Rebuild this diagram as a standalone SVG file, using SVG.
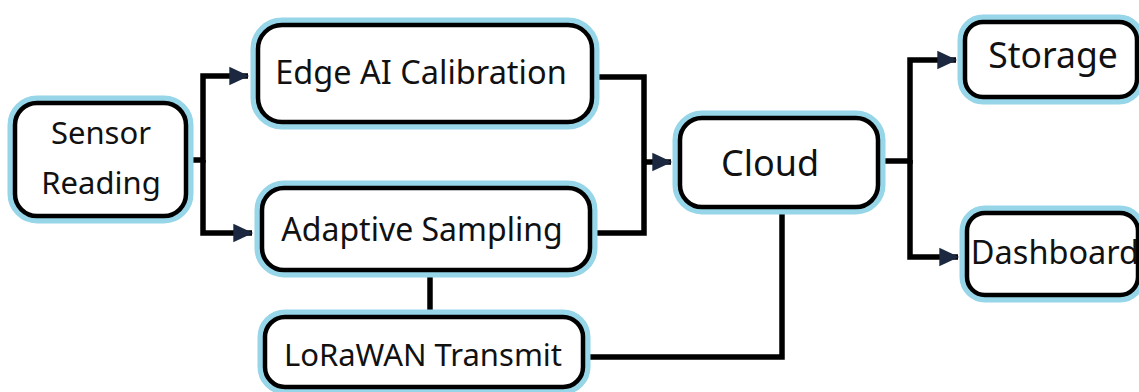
<svg xmlns="http://www.w3.org/2000/svg" width="1139" height="392" viewBox="0 0 1139 392">
<style>
.halo{fill:none;stroke:#96d6e8;stroke-width:15}
.box{fill:#fff;stroke:#000;stroke-width:4.5}
.t{font-family:"Noto Sans","Open Sans",sans-serif;fill:#111;text-anchor:middle}
.c{fill:none;stroke:#000;stroke-width:5.5;stroke-linejoin:miter}
</style>
<defs>
<marker id="ah" markerWidth="4" markerHeight="4" refX="3.4" refY="2" orient="auto" markerUnits="strokeWidth">
<path d="M0,0.3 L3.6,2 L0,3.7 z" fill="#1b2840"/>
</marker>
</defs>
<rect width="1139" height="392" fill="#fff"/>
<g id="connectors">
<path class="c" d="M186,160 H203 V76 H248" marker-end="url(#ah)"/>
<path class="c" d="M203,160 V233 H252" marker-end="url(#ah)"/>
<path class="c" d="M592,77 H644 V233 H590"/>
<path class="c" d="M644,162 H671" marker-end="url(#ah)"/>
<path class="c" d="M430,270 V317"/>
<path class="c" d="M583,357 H782 V207"/>
<path class="c" d="M878,161 H910 V60 H956" marker-end="url(#ah)"/>
<path class="c" d="M910,160 V257 H958" marker-end="url(#ah)"/>
</g>
<g id="sensor">
<rect class="halo" x="15" y="103" width="171" height="113" rx="22"/>
<rect class="box" x="15" y="103" width="171" height="113" rx="22"/>
<text class="t" x="101" y="144" font-size="31">Sensor</text>
<text class="t" x="101" y="194" font-size="31">Reading</text>
</g>
<g id="edge">
<rect class="halo" x="258" y="25" width="334" height="97" rx="24"/>
<rect class="box" x="258" y="25" width="334" height="97" rx="24"/>
<text class="t" x="421" y="84" font-size="32.5">Edge AI Calibration</text>
</g>
<g id="adaptive">
<rect class="halo" x="262" y="188" width="328" height="82" rx="22"/>
<rect class="box" x="262" y="188" width="328" height="82" rx="22"/>
<text class="t" x="422" y="241" font-size="32">Adaptive Sampling</text>
</g>
<g id="lorawan">
<rect class="halo" x="265" y="317" width="318" height="70" rx="20"/>
<rect class="box" x="265" y="317" width="318" height="70" rx="20"/>
<text class="t" x="423" y="366" font-size="31">LoRaWAN Transmit</text>
</g>
<g id="cloud">
<rect class="halo" x="680" y="118" width="198" height="89" rx="22"/>
<rect class="box" x="680" y="118" width="198" height="89" rx="22"/>
<text class="t" x="770" y="176" font-size="36">Cloud</text>
</g>
<g id="storage">
<rect class="halo" x="965" y="22" width="172" height="75" rx="18"/>
<rect class="box" x="965" y="22" width="172" height="75" rx="18"/>
<text class="t" x="1053" y="68" font-size="35.5">Storage</text>
</g>
<g id="dashboard">
<rect class="halo" x="967" y="213" width="171" height="82" rx="18"/>
<rect class="box" x="967" y="213" width="171" height="82" rx="18"/>
<text class="t" x="1055" y="264" font-size="32.5">Dashboard</text>
</g>
</svg>
